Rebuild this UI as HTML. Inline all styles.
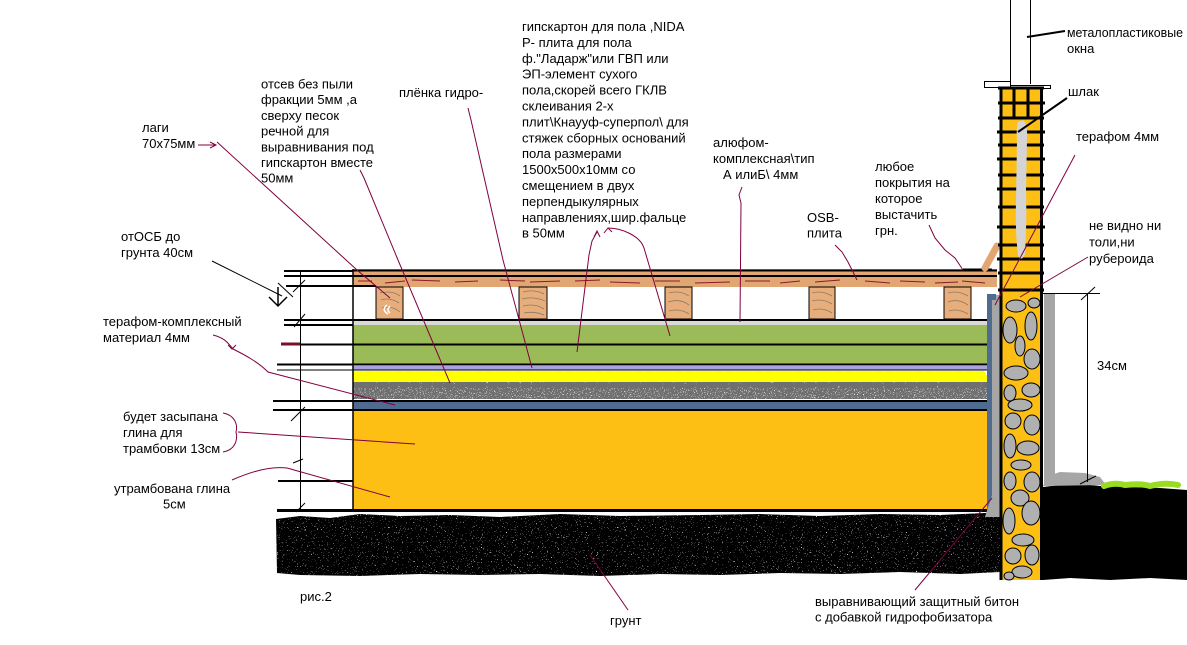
<!DOCTYPE html>
<html>
<head>
<meta charset="utf-8">
<style>
html,body{margin:0;padding:0;background:#fff;}
svg{display:block;}
text{font-family:"Liberation Sans","DejaVu Sans",sans-serif;font-size:13px;fill:#000;}
</style>
</head>
<body>
<svg width="1187" height="645" viewBox="0 0 1187 645" xmlns="http://www.w3.org/2000/svg">
<defs>
<filter id="spk" x="0" y="0" width="1" height="1">
 <feTurbulence type="fractalNoise" baseFrequency="0.8" numOctaves="2" seed="7" result="t"/>
 <feColorMatrix in="t" type="matrix" values="0 0 0 0 1  0 0 0 0 1  0 0 0 0 1  14 0 0 0 -9.6"/>
 <feComposite operator="in" in2="SourceGraphic"/>
</filter>
<filter id="spk2" x="0" y="0" width="1" height="1">
 <feTurbulence type="fractalNoise" baseFrequency="0.9" numOctaves="2" seed="3" result="t"/>
 <feColorMatrix in="t" type="matrix" values="0 0 0 0 1  0 0 0 0 1  0 0 0 0 1  12 0 0 0 -7.6"/>
 <feComposite operator="in" in2="SourceGraphic"/>
</filter>
</defs>

<!-- ground -->
<path d="M276,519 L300,516 L330,518 L360,514 L400,516 L450,515 L500,517 L560,514 L620,516 L700,515 L760,514 L820,516 L880,514 L940,515 L985,513 L1000,512 L1000,572 L960,574 L900,572 L840,574 L780,573 L720,575 L660,574 L600,576 L540,574 L480,575 L420,574 L360,576 L300,575 L277,573 Z" fill="#000"/>
<path d="M276,519 L300,516 L330,518 L360,514 L400,516 L450,515 L500,517 L560,514 L620,516 L700,515 L760,514 L820,516 L880,514 L940,515 L985,513 L1000,512 L1000,572 L960,574 L900,572 L840,574 L780,573 L720,575 L660,574 L600,576 L540,574 L480,575 L420,574 L360,576 L300,575 L277,573 Z" fill="#000" filter="url(#spk)"/>
<path d="M1043,487 L1060,485 L1080,484 L1100,486 L1130,487 L1160,488 L1187,490 L1187,580 L1150,578 L1110,580 L1070,578 L1043,580 Z" fill="#000"/>
<!-- grass & mound -->
<path d="M1043,486 L1048,476 L1060,472 L1085,473 L1100,477 L1106,485 Z" fill="#a6a6a6"/>
<path d="M1104,486 Q1115,482 1125,485 Q1140,483 1150,486 Q1165,482 1178,485" fill="none" stroke="#99dd22" stroke-width="6" stroke-linecap="round"/>

<!-- OSB board -->
<rect x="353" y="269" width="644" height="18" fill="#e2a673"/>
<line x1="353" y1="270.5" x2="997" y2="270.5" stroke="#000" stroke-width="2"/>
<line x1="353" y1="276" x2="997" y2="276" stroke="#000" stroke-width="2"/>
<line x1="963" y1="270" x2="992" y2="270" stroke="#000" stroke-width="3"/>
<g stroke="#8b1a2a" stroke-width="1">
<line x1="358" y1="281" x2="372" y2="281"/><line x1="385" y1="283" x2="405" y2="281"/>
<line x1="412" y1="280" x2="440" y2="281"/><line x1="455" y1="282" x2="478" y2="281"/>
<line x1="500" y1="280" x2="525" y2="281"/><line x1="530" y1="282" x2="560" y2="281"/>
<line x1="575" y1="281" x2="600" y2="280"/><line x1="610" y1="282" x2="640" y2="283"/>
<line x1="655" y1="281" x2="680" y2="281"/><line x1="695" y1="283" x2="730" y2="282"/>
<line x1="745" y1="281" x2="770" y2="281"/><line x1="780" y1="283" x2="800" y2="281"/>
<line x1="815" y1="282" x2="840" y2="280"/><line x1="865" y1="281" x2="890" y2="283"/>
<line x1="900" y1="281" x2="925" y2="282"/><line x1="935" y1="283" x2="958" y2="282"/>
<line x1="962" y1="281" x2="985" y2="283"/>
</g>
<line x1="985" y1="268" x2="997" y2="246" stroke="#e2a673" stroke-width="7" stroke-linecap="round"/>

<!-- lags -->
<g stroke="#000" stroke-width="1" fill="#e7ae7c">
<rect x="376" y="287" width="27" height="32"/>
<rect x="519" y="287" width="28" height="32"/>
<rect x="665" y="287" width="27" height="32"/>
<rect x="809" y="287" width="26" height="32"/>
<rect x="944" y="287" width="27" height="32"/>
</g>
<g fill="none" stroke="#8a7a6a" stroke-width="0.8">
<path d="M380,293 Q392,290 400,296 M381,300 Q390,297 399,303 M382,308 Q392,305 400,312"/>
<path d="M523,292 Q535,289 544,294 M522,299 Q534,296 545,301 M523,306 Q535,303 544,309 M524,313 Q534,311 544,315"/>
<path d="M669,293 Q680,290 689,296 M668,302 Q680,298 689,305 M669,311 Q680,308 689,314"/>
<path d="M812,293 Q822,290 832,296 M812,301 Q822,298 832,304 M813,310 Q823,307 832,313"/>
<path d="M948,293 Q958,290 968,296 M948,302 Q958,298 968,305 M949,311 Q958,308 968,314"/>
</g>
<path d="M387,305 Q381,310 388,314 M390,306 Q386,310 390,313" fill="none" stroke="#fff" stroke-width="1.5"/>

<!-- layers -->
<line x1="284" y1="320" x2="988" y2="320" stroke="#000" stroke-width="2"/>
<rect x="353" y="321" width="635" height="4" fill="#d9d9d9"/>
<rect x="353" y="325" width="635" height="39" fill="#9bbb59"/>
<line x1="281" y1="344.5" x2="988" y2="344.5" stroke="#000" stroke-width="2"/>
<line x1="277" y1="364.5" x2="988" y2="364.5" stroke="#000" stroke-width="2"/>
<rect x="353" y="366" width="635" height="4" fill="#aaa2d8"/>
<line x1="277" y1="370" x2="988" y2="370" stroke="#000" stroke-width="1"/>
<!-- gravel -->
<rect x="353" y="371" width="635" height="29" fill="#fff"/>
<rect x="353" y="379" width="635" height="20" fill="#6f6f6f"/>
<rect x="353" y="379" width="635" height="20" fill="#000" filter="url(#spk2)"/>
<rect x="353" y="375" width="635" height="7" fill="#ffff00"/>
<line x1="356" y1="375" x2="986" y2="375" stroke="#ffff00" stroke-width="8" stroke-dasharray="6 4" stroke-linecap="round"/>
<line x1="358" y1="385" x2="986" y2="385" stroke="#6f6f6f" stroke-width="6" stroke-dasharray="5 6" stroke-linecap="round"/>
<line x1="273" y1="401" x2="988" y2="401" stroke="#000" stroke-width="2"/>
<rect x="353" y="402" width="635" height="7" fill="#4f6b8f"/>
<line x1="273" y1="410" x2="988" y2="410" stroke="#000" stroke-width="2"/>
<rect x="353" y="411" width="637" height="98" fill="#fdbf13"/>
<line x1="277" y1="510.5" x2="990" y2="510.5" stroke="#000" stroke-width="3"/>
<rect x="987" y="295" width="5" height="215" fill="#4f6b8f"/>

<!-- left dimension lines -->
<g stroke="#000" stroke-width="2">
<line x1="284" y1="271" x2="353" y2="271"/>
<line x1="284" y1="276" x2="353" y2="276"/>
<line x1="286" y1="286" x2="376" y2="286"/>
<line x1="284" y1="325" x2="353" y2="325"/>
<line x1="278" y1="481" x2="353" y2="481"/>
</g>
<line x1="281" y1="344" x2="300" y2="344" stroke="#7a0f2a" stroke-width="3"/>
<line x1="353" y1="269" x2="353" y2="512" stroke="#000" stroke-width="1.5"/>
<line x1="300.5" y1="271" x2="300.5" y2="512" stroke="#000" stroke-width="1"/>
<g stroke="#000" stroke-width="1">
<line x1="293" y1="292" x2="305" y2="280"/>
<line x1="294" y1="327" x2="305" y2="314"/>
<line x1="291" y1="421" x2="305" y2="407"/>
<line x1="296" y1="512" x2="305" y2="503"/>
<line x1="293" y1="463" x2="303" y2="459"/>
<line x1="212" y1="261" x2="282" y2="296"/>
<line x1="278" y1="283" x2="293" y2="297"/>
</g>
<path d="M278,287 L278,306 M269,297 L278,306 L287,297" fill="none" stroke="#000" stroke-width="1.5"/>

<!-- wall -->
<line x1="1010.5" y1="0" x2="1010.5" y2="84" stroke="#000" stroke-width="1"/>
<line x1="1030.5" y1="0" x2="1030.5" y2="84" stroke="#000" stroke-width="1"/>
<rect x="984.5" y="81.5" width="26" height="6" fill="#fff" stroke="#000" stroke-width="1"/>
<rect x="1010.5" y="85.5" width="40" height="3" fill="#fff" stroke="#000" stroke-width="1"/>
<rect x="1000" y="88" width="42" height="492" fill="#fdbf13"/>
<g stroke="#000" stroke-width="3">
<line x1="998" y1="88" x2="1044" y2="88"/>
<line x1="998" y1="103" x2="1045" y2="103"/>
<line x1="998" y1="118" x2="1044" y2="118"/>
<line x1="997" y1="132" x2="1045" y2="132"/>
<line x1="998" y1="145" x2="1044" y2="145"/>
<line x1="997" y1="159" x2="1045" y2="159"/>
<line x1="998" y1="175" x2="1044" y2="175"/>
<line x1="997" y1="189" x2="1045" y2="189"/>
<line x1="998" y1="207" x2="1044" y2="207"/>
<line x1="997" y1="227" x2="1045" y2="227"/>
<line x1="998" y1="245" x2="1044" y2="245"/>
<line x1="997" y1="259" x2="1045" y2="259"/>
<line x1="998" y1="273" x2="1044" y2="273"/>
<line x1="998" y1="290" x2="1044" y2="290"/>
<line x1="1014" y1="88" x2="1014" y2="118"/>
<line x1="1028" y1="88" x2="1028" y2="118"/>
</g>
<path d="M1018,122 Q1016,128 1017,140 L1016,200 Q1015,230 1018,256 Q1022,262 1025,254 Q1027,220 1026,190 L1027,140 Q1028,124 1023,120 Z" fill="#d4d4d4"/>
<!-- stone column -->
<rect x="992" y="295" width="8" height="222" fill="#a6a6a6"/>
<path d="M985,517 L992,495 L1000,495 L1000,517 Z" fill="#a6a6a6"/>
<rect x="1044" y="294" width="11" height="190" fill="#a6a6a6"/>
<g fill="#b0b0b0" stroke="#000" stroke-width="1">
<ellipse cx="1016" cy="306" rx="10" ry="6"/>
<ellipse cx="1034" cy="303" rx="6" ry="5"/>
<ellipse cx="1010" cy="330" rx="7" ry="13"/>
<ellipse cx="1031" cy="326" rx="6" ry="14"/>
<ellipse cx="1020" cy="346" rx="5" ry="10"/>
<ellipse cx="1032" cy="359" rx="8" ry="10"/>
<ellipse cx="1016" cy="373" rx="12" ry="7"/>
<ellipse cx="1031" cy="390" rx="9" ry="7"/>
<ellipse cx="1010" cy="393" rx="6" ry="8"/>
<ellipse cx="1020" cy="405" rx="12" ry="6"/>
<ellipse cx="1013" cy="421" rx="8" ry="8"/>
<ellipse cx="1032" cy="425" rx="8" ry="10"/>
<ellipse cx="1010" cy="446" rx="6" ry="12"/>
<ellipse cx="1028" cy="448" rx="11" ry="7"/>
<ellipse cx="1021" cy="465" rx="10" ry="5"/>
<ellipse cx="1032" cy="482" rx="8" ry="10"/>
<ellipse cx="1010" cy="481" rx="6" ry="9"/>
<ellipse cx="1020" cy="498" rx="9" ry="8"/>
<ellipse cx="1031" cy="513" rx="9" ry="12"/>
<ellipse cx="1009" cy="521" rx="6" ry="13"/>
<ellipse cx="1023" cy="540" rx="11" ry="6"/>
<ellipse cx="1013" cy="556" rx="8" ry="8"/>
<ellipse cx="1032" cy="555" rx="7" ry="10"/>
<ellipse cx="1022" cy="572" rx="10" ry="6"/>
<ellipse cx="1009" cy="576" rx="5" ry="4"/>
</g>
<line x1="1001" y1="87" x2="1001" y2="580" stroke="#000" stroke-width="3"/>
<line x1="1041.5" y1="87" x2="1041.5" y2="580" stroke="#000" stroke-width="3"/>
<rect x="987" y="294" width="9" height="6" fill="#4f6b8f"/>

<!-- right dimension -->
<g stroke="#000" stroke-width="1">
<line x1="1043" y1="293.5" x2="1100" y2="293.5"/>
<line x1="1087.5" y1="293" x2="1087.5" y2="482"/>
<line x1="1081" y1="300" x2="1095" y2="287"/>
<line x1="1080" y1="484" x2="1096" y2="476"/>
</g>

<!-- black leaders -->
<line x1="1067" y1="98" x2="1018" y2="132" stroke="#000" stroke-width="2"/>
<line x1="1065" y1="31" x2="1027" y2="37" stroke="#000" stroke-width="2"/>

<!-- maroon leaders -->
<g fill="none" stroke="#800040" stroke-width="1">
<path d="M198,145 L216,145 M210,142 L216,145 L210,148"/>
<path d="M217,142 L357,270 L390,298"/>
<path d="M360,170 L364,178 L398,260 L450,383"/>
<path d="M468,108 L471,120 L503,260 L532,368"/>
<path d="M594,237 L597,231 L600,237 M597,232 L592,241 L589,255 L577,352"/>
<path d="M604,233 L608,228 L612,232 M608,228 C620,228 640,235 644,248 L670,336"/>
<path d="M742,187 L739,195 L741,203 L740,322"/>
<path d="M835,245 L842,252 L848,262 L857,280"/>
<path d="M929,225 L935,238 L945,250 L955,258 L963,270"/>
<path d="M213,335 C225,338 228,343 233,349 C245,355 258,362 268,372 L395,405"/>
<path d="M228,345 L232,349 L236,345"/>
<path d="M223,413 C235,415 238,425 236,432 C238,440 235,450 223,452"/>
<path d="M238,432 L415,444"/>
<path d="M232,480 C250,472 270,466 287,468 L390,497"/>
<path d="M1075,155 L995,305"/>
<path d="M1088,257 L1020,297"/>
<path d="M628,610 L590,555"/>
<path d="M915,590 L992,498"/>
</g>

<!-- texts -->
<text x="522" y="31">гипскартон для пола ,NIDA<tspan x="522" dy="15.9">Р- плита для пола</tspan><tspan x="522" dy="15.9">ф."Ладарж"или ГВП или</tspan><tspan x="522" dy="15.9">ЭП-элемент сухого</tspan><tspan x="522" dy="15.9">пола,скорей всего ГКЛВ</tspan><tspan x="522" dy="15.9">склеивания 2-х</tspan><tspan x="522" dy="15.9">плит\Кнаууф-суперпол\ для</tspan><tspan x="522" dy="15.9">стяжек сборных оснований</tspan><tspan x="522" dy="15.9">пола размерами</tspan><tspan x="522" dy="15.9">1500x500x10мм со</tspan><tspan x="522" dy="15.9">смещением в двух</tspan><tspan x="522" dy="15.9">перпендыкулярных</tspan><tspan x="522" dy="15.9">направлениях,шир.фальце</tspan><tspan x="522" dy="15.9">в 50мм</tspan></text>

<text x="261" y="88.5">отсев без пыли<tspan x="261" dy="15.7">фракции 5мм ,а</tspan><tspan x="261" dy="15.7">сверху песок</tspan><tspan x="261" dy="15.7">речной для</tspan><tspan x="261" dy="15.7">выравнивания под</tspan><tspan x="261" dy="15.7">гипскартон вместе</tspan><tspan x="261" dy="15.7">50мм</tspan></text>

<text x="399" y="97">плёнка гидро-</text>
<text x="142" y="132">лаги<tspan x="142" dy="16">70x75мм</tspan></text>
<text x="121" y="241">отОСБ до<tspan x="121" dy="16">грунта 40см</tspan></text>
<text x="103" y="326">терафом-комплексный<tspan x="103" dy="16">материал 4мм</tspan></text>
<text x="123" y="421">будет засыпана<tspan x="123" dy="16">глина для</tspan><tspan x="123" dy="16">трамбовки 13см</tspan></text>
<text x="114" y="493">утрамбована глина<tspan x="163" dy="15.5">5см</tspan></text>
<text x="713" y="147">алюфом-<tspan x="713" dy="16">комплексная\тип</tspan><tspan x="723" dy="16">А илиБ\ 4мм</tspan></text>
<text x="807" y="222">OSB-<tspan x="807" dy="15.5">плита</tspan></text>
<text x="875" y="171">любое<tspan x="875" dy="16">покрытия на</tspan><tspan x="875" dy="16">которое</tspan><tspan x="875" dy="16">выстачить</tspan><tspan x="875" dy="16">грн.</tspan></text>
<text x="1068" y="96">шлак</text>
<text x="1076" y="141">терафом 4мм</text>
<text x="1089" y="230">не видно ни<tspan x="1089" dy="16.5">толи,ни</tspan><tspan x="1089" dy="16.5">рубероида</tspan></text>
<text x="1067" y="37" textLength="116" lengthAdjust="spacingAndGlyphs">металопластиковые</text>
<text x="1067" y="53">окна</text>
<text x="1097" y="370">34см</text>
<text x="300" y="601">рис.2</text>
<text x="610" y="625">грунт</text>
<text x="815" y="606">выравнивающий защитный битон<tspan x="815" dy="15.5">с добавкой гидрофобизатора</tspan></text>
</svg>
</body>
</html>
